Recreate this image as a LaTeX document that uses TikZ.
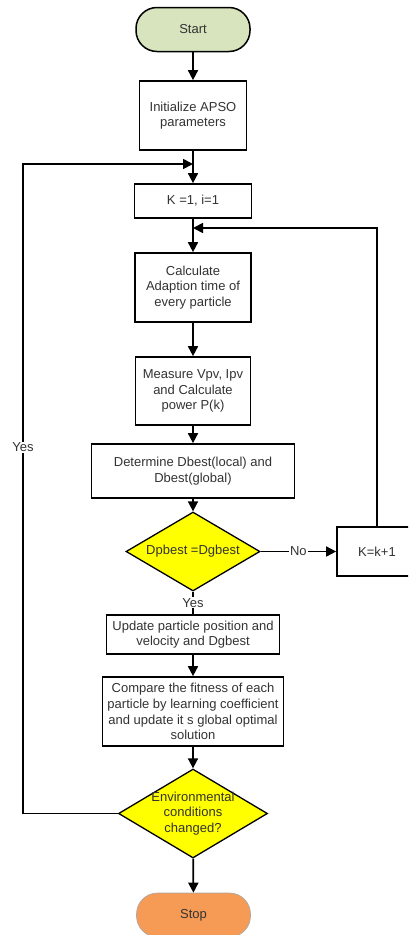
\documentclass[tikz,border=0pt]{standalone}
\usepackage{fontspec}
\setmainfont{Liberation Sans}
\usetikzlibrary{shapes.geometric,arrows.meta}

\definecolor{startfill}{HTML}{D7E4BD}
\definecolor{stopfill}{HTML}{F59B55}
\definecolor{decfill}{HTML}{FFFF00}
\definecolor{txt}{HTML}{333333}

\tikzset{
  base/.style={font=\fontsize{13}{15.7}\selectfont, text=txt, align=center, inner sep=0pt},
  procbox/.style={base, draw=black, line width=1.7pt, fill=white, rectangle},
  terminal/.style={base, rectangle, rounded corners=21pt, minimum width=114pt, minimum height=44pt},
  decision/.style={diamond, draw=black, line width=1.3pt, fill=decfill, inner sep=0pt},
  flow/.style={line width=1.7pt, -{Triangle[width=10pt,length=10pt]}},
  plain/.style={line width=1.7pt},
  tag/.style={base, fill=white, inner sep=1pt}
}

\begin{document}
\begin{tikzpicture}[x=1pt,y=-1pt]
\useasboundingbox (0,0) rectangle (408,935);
\clip (0,0) rectangle (408,935);

% terminals
\node[terminal, draw=black, line width=1.5pt, fill=startfill] (start) at (193,29.5) {Start};
\node[terminal, draw=gray!70, line width=0.6pt, fill=stopfill] (stop) at (193.5,915) {Stop};

% process boxes
\node[procbox, minimum width=107pt, minimum height=69pt] (init) at (193,115.5) {Initialize APSO\\parameters};
\node[procbox, minimum width=117pt, minimum height=34pt] (k1) at (193,201) {K =1, i=1};
\node[procbox, minimum width=116pt, minimum height=69pt] (calc) at (193,287.5) {Calculate\\Adaption time of\\every particle};
\node[procbox, minimum width=115pt, minimum height=68pt] (meas) at (193,391) {Measure Vpv, Ipv\\and Calculate\\power P(k)};
\node[procbox, minimum width=203pt, minimum height=54pt] (det) at (193,471) {Determine Dbest(local) and\\Dbest(global)};
\node[procbox, minimum width=80pt, minimum height=49pt] (kk) at (377,551.5) {K=k+1};
\node[procbox, minimum width=173pt, minimum height=39pt] (upd) at (193,634.5) {Update particle position and\\velocity and Dgbest};
\node[procbox, minimum width=181pt, minimum height=69pt] (cmp) at (193,711.5) {Compare the fitness of each\\particle by learning coefficient\\and update it s global optimal\\solution};

% decisions
\node[decision, minimum width=134pt, minimum height=79pt,
      label={[base]center:Dpbest =Dgbest}] (d1) at (193,551.5) {};
\node[decision, minimum width=149pt, minimum height=89pt,
      label={[base]center:Environmental\\conditions\\changed?}] (d2) at (193,813.5) {};

% loop-back points
\coordinate (ktop) at (193,228);
\coordinate (ltop) at (193,164);
\coordinate (lcorner) at (23,164);
\coordinate (lbottom) at (23,813.5);
\coordinate (rcorner) at (377,228);

% main flow
\draw[flow] (start) -- (init);
\draw[flow] (init) -- (k1);
\draw[flow] (k1) -- (calc);
\draw[flow] (calc) -- (meas);
\draw[flow] (meas) -- (det);
\draw[flow] (det) -- (d1);
\draw[plain] (d1.south) -- node[tag, pos=0.5] {Yes} (upd.north);
\draw[flow] (upd) -- (cmp);
\draw[flow] (cmp) -- (d2);
\draw[flow] (d2) -- (stop);

% No branch
\draw[flow] (d1.east) -- node[tag, pos=0.5] {No} (kk.west);
\draw[flow] (kk.north) -- (rcorner) -- (ktop);

% Yes branch back to the start of the loop
\draw[flow] (d2.west) -- (lbottom) -- node[tag, pos=0.564] {Yes} (lcorner) -- (ltop);
\end{tikzpicture}
\end{document}
